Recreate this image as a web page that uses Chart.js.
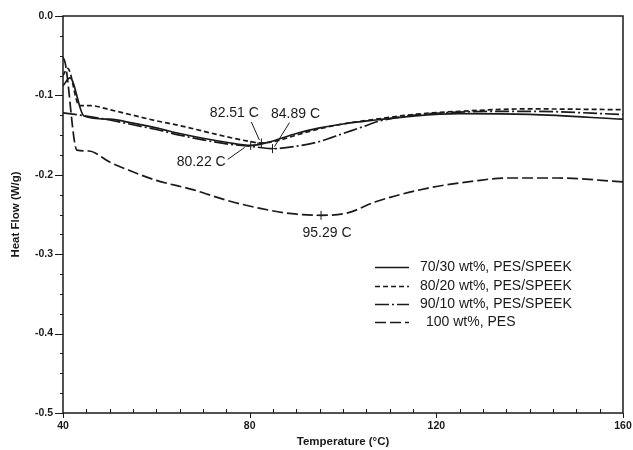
<!DOCTYPE html>
<html>
<head>
<meta charset="utf-8">
<script src="https://cdn.jsdelivr.net/npm/chart.js@4.4.0/dist/chart.umd.min.js"></script>
<style>
  html, body { margin: 0; padding: 0; background: #fff; }
</style>
</head>
<body>
<canvas id="dsc" width="633" height="450"></canvas>
<script>
// valeurs (temperature en °C, flux en W/g)
const t7030 = [40, 41.5, 44.5, 50, 55, 60, 65, 70, 75, 80.22, 84, 90, 95, 100, 107, 115, 125, 140, 160]
const hf7030 = [-0.088, -0.078, -0.126, -0.130, -0.135, -0.141, -0.148, -0.154, -0.159, -0.163, -0.159, -0.148, -0.141, -0.136, -0.131, -0.126, -0.123, -0.124, -0.130]

const t8020 = [40, 41, 43.5, 46, 50, 55, 60, 65, 70, 75, 80, 82.51, 86, 90, 95, 100, 107, 115, 125, 140, 160]
const hf8020 = [-0.075, -0.066, -0.113, -0.113, -0.118, -0.125, -0.132, -0.138, -0.145, -0.152, -0.158, -0.160, -0.157, -0.150, -0.142, -0.136, -0.130, -0.124, -0.120, -0.117, -0.118]

const t9010 = [40, 45, 50, 55, 60, 65, 70, 75, 80, 84.89, 90, 95, 100, 104, 108, 115, 125, 140, 160]
const hf9010 = [-0.122, -0.126, -0.131, -0.137, -0.143, -0.150, -0.156, -0.161, -0.164, -0.167, -0.164, -0.158, -0.148, -0.140, -0.132, -0.125, -0.121, -0.120, -0.124]

const tPes = [40, 40.5, 43, 45.5, 50, 54, 60, 68, 75, 82, 89, 95.29, 101, 107, 118, 128, 135, 146, 160]
const hfPes = [-0.052, -0.060, -0.169, -0.170, -0.184, -0.194, -0.207, -0.219, -0.232, -0.242, -0.249, -0.251, -0.248, -0.234, -0.217, -0.208, -0.204, -0.204, -0.209]

// pics marques sur les courbes
const picT = [80.22, 82.51, 84.89, 95.29]
const picHf = [-0.163, -0.160, -0.167, -0.251]
const picTexte = ['80.22 C', '82.51 C', '84.89 C', '95.29 C']

const nomsSeries = ['70/30 wt%, PES/SPEEK', '80/20 wt%, PES/SPEEK', '90/10 wt%, PES/SPEEK', '100 wt%, PES']

const police = 'Liberation Sans, Arial, sans-serif'
const encre = '#1a1a1a'

function points(ts, hs) {
    return ts.map((t, i) => ({ x: t, y: hs[i] }))
}

function serie(label, ts, hs, dash) {
    return {
        label: label,
        data: points(ts, hs),
        borderColor: encre,
        borderWidth: 1.7,
        borderDash: dash,
        pointRadius: 0,
        fill: false,
        cubicInterpolationMode: 'monotone'
    }
}

// decalage du texte par rapport au pic, et bout du trait de rappel
const placeTexte = [
    { dx: -25, dy: 17, align: 'right', trait: [-23, 14, -6, 2] },
    { dx: -27, dy: -30, align: 'center', trait: [-10, -21, -2, -3] },
    { dx: 23, dy: -34, align: 'center', trait: [17, -26, 2, -2] },
    { dx: 6, dy: 18, align: 'center', trait: null }
]

const habillage = {
    id: 'habillage',
    afterDraw(chart) {
        const { ctx, chartArea: a, scales: { x, y } } = chart
        ctx.save()
        ctx.strokeStyle = encre
        ctx.lineWidth = 1.5
        ctx.strokeRect(a.left, a.top, a.right - a.left, a.bottom - a.top)

        // graduations
        ctx.lineWidth = 1
        x.ticks.forEach(t => {
            const px = Math.round(x.getPixelForValue(t.value)) + 0.5
            ctx.beginPath()
            if (t.value % 40 === 0) {
                ctx.moveTo(px, a.bottom); ctx.lineTo(px, a.bottom + 5)
            } else {
                ctx.moveTo(px, a.bottom); ctx.lineTo(px, a.bottom - 4)
            }
            ctx.stroke()
        })
        y.ticks.forEach(t => {
            const py = Math.round(y.getPixelForValue(t.value)) + 0.5
            const major = Math.round(t.value * 40) % 4 === 0
            ctx.beginPath()
            ctx.moveTo(a.left - (major ? 8 : 3), py); ctx.lineTo(a.left, py)
            ctx.stroke()
        })

        // textes des pics
        ctx.font = '14px ' + police
        ctx.fillStyle = encre
        ctx.textBaseline = 'middle'
        picT.forEach((t, i) => {
            const px = x.getPixelForValue(t)
            const py = y.getPixelForValue(picHf[i])
            const p = placeTexte[i]
            ctx.textAlign = p.align
            ctx.fillText(picTexte[i], px + p.dx, py + p.dy)
            if (p.trait) {
                ctx.beginPath()
                ctx.moveTo(px + p.trait[0], py + p.trait[1])
                ctx.lineTo(px + p.trait[2], py + p.trait[3])
                ctx.stroke()
            }
        })

        // legende
        ctx.textAlign = 'left'
        const lignes = [267, 286, 304, 322]
        chart.data.datasets.slice(0, 4).forEach((d, i) => {
            const ly = lignes[i] + 0.5
            ctx.setLineDash(d.borderDash || [])
            ctx.lineWidth = 1.7
            ctx.beginPath()
            ctx.moveTo(375, ly); ctx.lineTo(409, ly)
            ctx.stroke()
            ctx.setLineDash([])
            ctx.fillText(nomsSeries[i], i === 3 ? 426 : 420, ly)
        })
        ctx.restore()
    }
}

new Chart(document.getElementById('dsc'), {
    type: 'line',
    data: {
        datasets: [
            serie(nomsSeries[0], t7030, hf7030, []),
            serie(nomsSeries[1], t8020, hf8020, [5, 3]),
            serie(nomsSeries[2], t9010, hf9010, [14, 3, 2, 3]),
            serie(nomsSeries[3], tPes, hfPes, [11, 4]),
            {
                type: 'scatter',
                label: 'pics',
                data: points(picT, picHf),
                pointStyle: 'cross',
                pointRadius: 4.5,
                borderColor: encre,
                borderWidth: 1,
                showLine: false
            }
        ]
    },
    options: {
        responsive: false,
        animation: false,
        devicePixelRatio: 1,
        layout: { padding: { top: 16, right: 10, left: 0, bottom: 0 } },
        plugins: {
            legend: { display: false },
            tooltip: { enabled: false }
        },
        scales: {
            x: {
                type: 'linear',
                min: 40,
                max: 160,
                grid: { display: false, drawTicks: false },
                border: { display: false },
                ticks: {
                    stepSize: 5,
                    autoSkip: false,
                    maxRotation: 0,
                    padding: 7,
                    color: encre,
                    font: { family: police, size: 10.5, weight: 'bold' },
                    callback: v => (v % 40 === 0 ? v : '')
                },
                title: {
                    display: true,
                    text: 'Temperature (°C)',
                    color: encre,
                    font: { family: police, size: 11.5, weight: 'bold' },
                    padding: { top: 0, bottom: 1 }
                },
                afterFit(s) { s.height = 37; s.paddingLeft = 0; s.paddingRight = 0 }
            },
            y: {
                type: 'linear',
                min: -0.5,
                max: 0,
                grid: { display: false, drawTicks: false },
                border: { display: false },
                ticks: {
                    stepSize: 0.025,
                    autoSkip: false,
                    padding: 10,
                    color: encre,
                    font: { family: police, size: 10.5, weight: 'bold' },
                    callback: v => {
                        const k = Math.round(v * 40)
                        return k % 4 === 0 ? (k === 0 ? '0.0' : (k / 40).toFixed(1)) : ''
                    }
                },
                title: {
                    display: true,
                    text: 'Heat Flow (W/g)',
                    color: encre,
                    font: { family: police, size: 11.5, weight: 'bold' },
                    padding: { top: 9, bottom: 0 }
                },
                afterFit(s) { s.width = 63; s.paddingTop = 0; s.paddingBottom = 0 }
            }
        }
    },
    plugins: [habillage]
})
</script>
</body>
</html>
